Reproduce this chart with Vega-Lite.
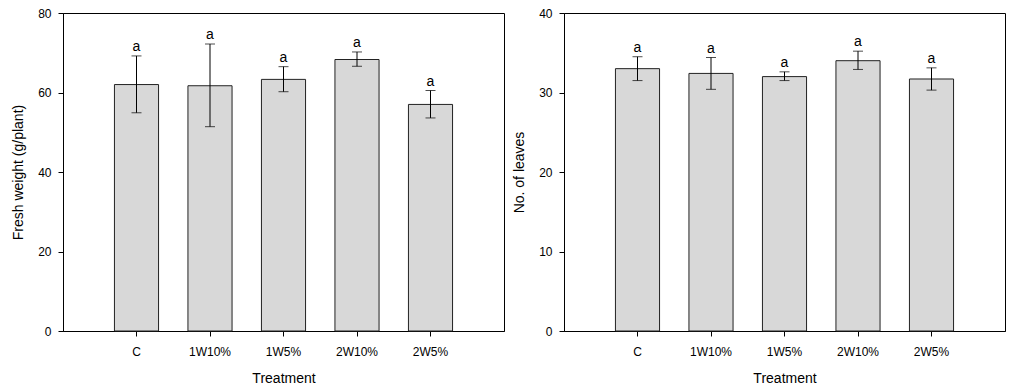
{
  "$schema": "https://vega.github.io/schema/vega-lite/v6.json",
  "padding": {"left": 11, "top": 6, "right": 5, "bottom": 0},
  "autosize": {"type": "pad"},
  "spacing": 7,
  "background": "white",
  "config": {
    "font": "Liberation Sans",
    "view": {"stroke": "#000000", "strokeWidth": 1},
    "axis": {
      "grid": false,
      "domainColor": "#000000",
      "tickColor": "#000000",
      "labelColor": "#000000",
      "titleColor": "#000000",
      "labelFont": "Liberation Sans",
      "titleFont": "Liberation Sans",
      "labelFontSize": 12,
      "titleFontSize": 14,
      "titleFontWeight": "normal",
      "tickSize": 5
    }
  },
  "datasets": {
    "fw": [
      {"Treatment": "C", "mean": 62.0, "lo": 54.9, "hi": 69.2, "sig": "a"},
      {"Treatment": "1W10%", "mean": 61.7, "lo": 51.4, "hi": 72.2, "sig": "a"},
      {"Treatment": "1W5%", "mean": 63.3, "lo": 60.2, "hi": 66.5, "sig": "a"},
      {"Treatment": "2W10%", "mean": 68.3, "lo": 66.6, "hi": 70.2, "sig": "a"},
      {"Treatment": "2W5%", "mean": 57.0, "lo": 53.6, "hi": 60.5, "sig": "a"}
    ],
    "leaves": [
      {"Treatment": "C", "mean": 33.0, "lo": 31.5, "hi": 34.5, "sig": "a"},
      {"Treatment": "1W10%", "mean": 32.4, "lo": 30.4, "hi": 34.4, "sig": "a"},
      {"Treatment": "1W5%", "mean": 32.0, "lo": 31.5, "hi": 32.6, "sig": "a"},
      {"Treatment": "2W10%", "mean": 34.0, "lo": 32.9, "hi": 35.2, "sig": "a"},
      {"Treatment": "2W5%", "mean": 31.7, "lo": 30.3, "hi": 33.1, "sig": "a"}
    ]
  },
  "hconcat": [
    {
      "width": 441,
      "height": 318,
      "data": {"name": "fw"},
      "encoding": {
        "x": {
          "field": "Treatment",
          "type": "nominal",
          "sort": ["C", "1W10%", "1W5%", "2W10%", "2W5%"],
          "scale": {"paddingInner": 0.4, "paddingOuter": 0.7},
          "axis": {"labelAngle": 0, "labelPadding": 10, "titlePadding": 14, "title": "Treatment"}
        }
      },
      "layer": [
        {
          "mark": {"type": "bar", "fill": "#d8d8d8", "stroke": "#222222", "strokeWidth": 1},
          "encoding": {
            "y": {
              "field": "mean",
              "type": "quantitative",
              "scale": {"domain": [0, 80], "nice": false},
              "axis": {"values": [0, 20, 40, 60, 80], "labelPadding": 7, "titlePadding": 12, "title": "Fresh weight (g/plant)"}
            }
          }
        },
        {
          "mark": {"type": "rule", "color": "#000000", "strokeWidth": 1},
          "encoding": {"y": {"field": "lo", "type": "quantitative"}, "y2": {"field": "hi"}}
        },
        {
          "mark": {"type": "tick", "color": "#000000", "size": 10, "thickness": 1, "orient": "horizontal"},
          "encoding": {"y": {"field": "lo", "type": "quantitative"}}
        },
        {
          "mark": {"type": "tick", "color": "#000000", "size": 10, "thickness": 1, "orient": "horizontal"},
          "encoding": {"y": {"field": "hi", "type": "quantitative"}}
        },
        {
          "mark": {"type": "text", "baseline": "bottom", "dy": -2, "fontSize": 14, "font": "Liberation Sans", "color": "#000000"},
          "encoding": {"y": {"field": "hi", "type": "quantitative"}, "text": {"field": "sig"}}
        }
      ]
    },
    {
      "width": 441,
      "height": 318,
      "data": {"name": "leaves"},
      "encoding": {
        "x": {
          "field": "Treatment",
          "type": "nominal",
          "sort": ["C", "1W10%", "1W5%", "2W10%", "2W5%"],
          "scale": {"paddingInner": 0.4, "paddingOuter": 0.7},
          "axis": {"labelAngle": 0, "labelPadding": 10, "titlePadding": 14, "title": "Treatment"}
        }
      },
      "layer": [
        {
          "mark": {"type": "bar", "fill": "#d8d8d8", "stroke": "#222222", "strokeWidth": 1},
          "encoding": {
            "y": {
              "field": "mean",
              "type": "quantitative",
              "scale": {"domain": [0, 40], "nice": false},
              "axis": {"values": [0, 10, 20, 30, 40], "labelPadding": 7, "titlePadding": 12, "title": "No. of leaves"}
            }
          }
        },
        {
          "mark": {"type": "rule", "color": "#000000", "strokeWidth": 1},
          "encoding": {"y": {"field": "lo", "type": "quantitative"}, "y2": {"field": "hi"}}
        },
        {
          "mark": {"type": "tick", "color": "#000000", "size": 10, "thickness": 1, "orient": "horizontal"},
          "encoding": {"y": {"field": "lo", "type": "quantitative"}}
        },
        {
          "mark": {"type": "tick", "color": "#000000", "size": 10, "thickness": 1, "orient": "horizontal"},
          "encoding": {"y": {"field": "hi", "type": "quantitative"}}
        },
        {
          "mark": {"type": "text", "baseline": "bottom", "dy": -2, "fontSize": 14, "font": "Liberation Sans", "color": "#000000"},
          "encoding": {"y": {"field": "hi", "type": "quantitative"}, "text": {"field": "sig"}}
        }
      ]
    }
  ]
}
